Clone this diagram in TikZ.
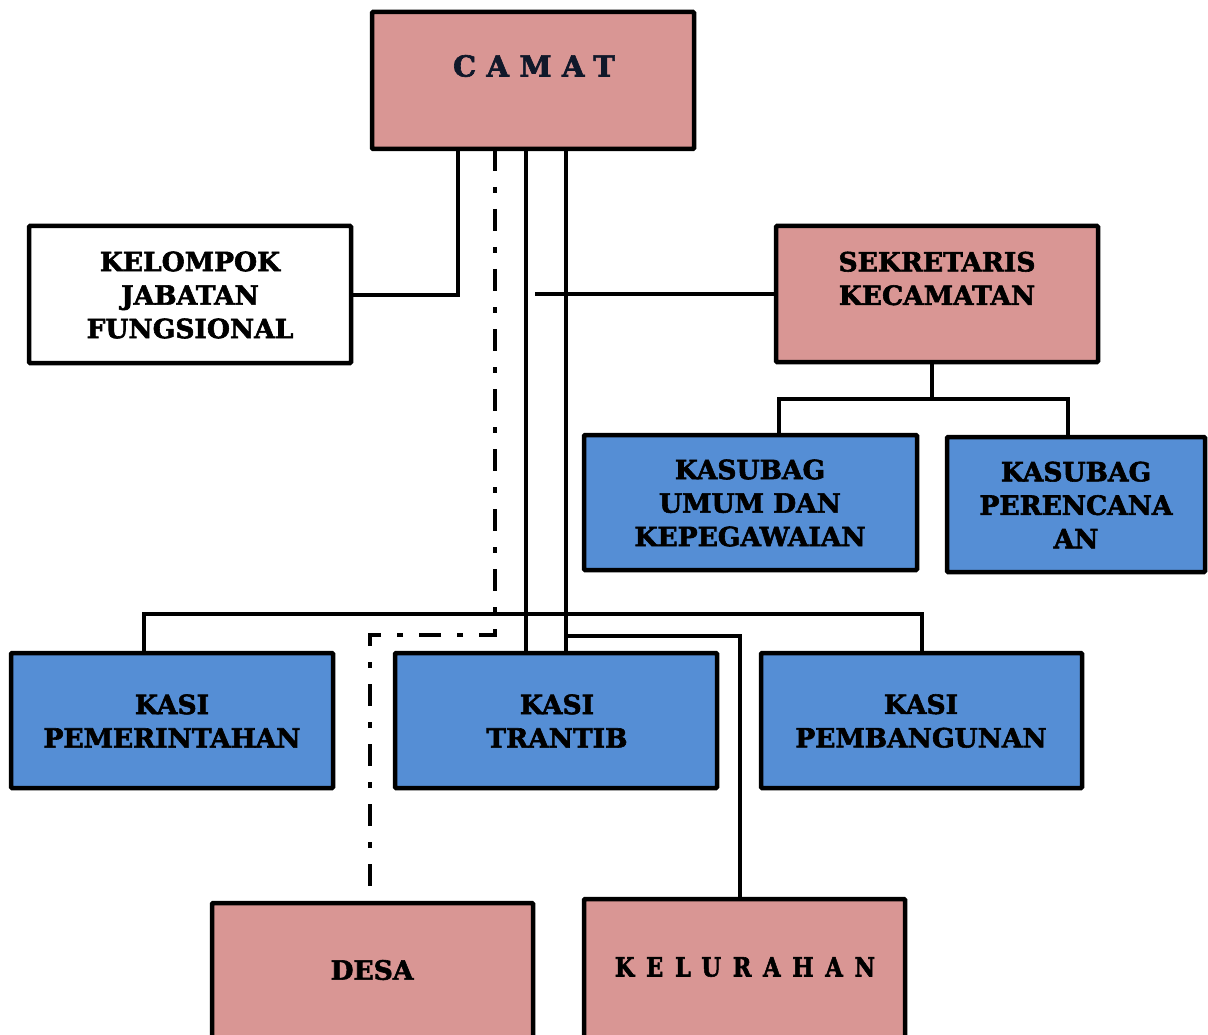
\documentclass[tikz,border=0pt]{standalone}
\usepackage{fontspec}
\setmainfont{DejaVu Serif}[BoldFeatures={FakeBold=2.2}]
\definecolor{pinkbox}{HTML}{D99694}
\definecolor{bluebox}{HTML}{558ED5}
\definecolor{navytxt}{HTML}{10182A}
\tikzset{
  box/.style={draw=black, line width=4.5pt, rounded corners=1pt, inner sep=0pt, outer sep=0pt},
  pinkb/.style={box, fill=pinkbox},
  blueb/.style={box, fill=bluebox},
  whiteb/.style={box, fill=white},
  lbl/.style={align=center, inner sep=0pt, font=\fontsize{26.5}{33.5}\selectfont\bfseries},
  conn/.style={line width=4pt, line cap=rect},
  dashdot/.style={line width=4pt, dash pattern=on 22pt off 16pt on 6pt off 16pt}
}
\begin{document}
\begin{tikzpicture}[x=1pt,y=-1pt]
\useasboundingbox (0,0) rectangle (1208,1035);
\clip (0,0) rectangle (1208,1035);
% boxes
\node[pinkb, minimum width=322pt, minimum height=137pt] (camat) at (533,80.5) {};
\node[whiteb, minimum width=322pt, minimum height=137pt] (kelompok) at (190,294.5) {};
\node[pinkb, minimum width=322pt, minimum height=136pt] (sekretaris) at (937,294) {};
\node[blueb, minimum width=333pt, minimum height=135pt] (umum) at (750.5,502.5) {};
\node[blueb, minimum width=258pt, minimum height=135pt] (perencanaan) at (1076,504.5) {};
\node[blueb, minimum width=322pt, minimum height=135pt] (pemerintahan) at (172,720.5) {};
\node[blueb, minimum width=322pt, minimum height=135pt] (trantib) at (556,720.5) {};
\node[blueb, minimum width=321pt, minimum height=135pt] (pembangunan) at (921.5,720.5) {};
\node[pinkb, minimum width=321pt, minimum height=140pt] (desa) at (372.5,973) {};
\node[pinkb, minimum width=321pt, minimum height=144pt] (kelurahan) at (744.5,971) {};
% texts
\node[lbl, text=navytxt, font=\fontsize{29}{33.5}\selectfont\bfseries] (camatT) at (534,66) {\addfontfeature{LetterSpace=36}CAMAT};
\node[lbl] (kelompokT) at (190,295) {KELOMPOK\\JABATAN\\FUNGSIONAL};
\node[lbl] (sekretarisT) at (937,278.5) {SEKRETARIS\\KECAMATAN};
\node[lbl] (umumT) at (750,503) {KASUBAG\\UMUM DAN\\KEPEGAWAIAN};
\node[lbl] (perencanaanT) at (1076,505) {KASUBAG\\PERENCANA\\AN};
\node[lbl] (pemerintahanT) at (172,721) {KASI\\PEMERINTAHAN};
\node[lbl] (trantibT) at (557,721) {KASI\\TRANTIB};
\node[lbl] (pembangunanT) at (921,721) {KASI\\PEMBANGUNAN};
\node[lbl] (desaT) at (372,970) {DESA};
\node[lbl] (kelurahanT) at (745,967) {\scalebox{0.85}[1]{\addfontfeature{LetterSpace=52}KELURAHAN}};
% coordinates
\coordinate (dd) at (495,635);
\coordinate (sk) at (537,294);
\coordinate (bus) at (144,614);
\coordinate (kl) at (566,636);
\coordinate (sb) at (932,399);
% connectors
\draw[conn] ([xshift=-75pt]camat.south) |- (kelompok.east);
\draw[dashdot] ([xshift=-38pt]camat.south) -- (dd) -| ([xshift=-2.5pt]desa.north);
\draw[conn] ([xshift=-7pt]camat.south) -- ([xshift=-7pt]camat.south |- trantib.north);
\draw[conn] ([xshift=33pt]camat.south) -- ([xshift=33pt]camat.south |- trantib.north);
\draw[conn] (sk) -- (sekretaris.west);
\draw[conn] (pemerintahan.north -| bus) -- (bus) -| (pembangunan.north);
\draw[conn] (kl) -| ([xshift=-4.5pt]kelurahan.north);
\draw[conn] ([xshift=-5pt]sekretaris.south) -- (sb);
\draw[conn] ([xshift=28.5pt]umum.north) |- (sb) -| ([xshift=-8pt]perencanaan.north);
\end{tikzpicture}
\end{document}
